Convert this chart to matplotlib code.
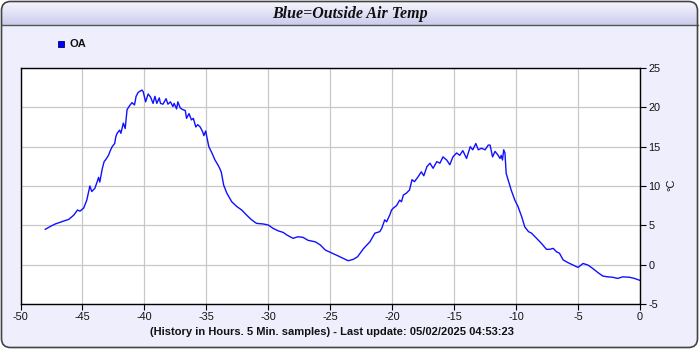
import matplotlib
matplotlib.use("Agg")
import matplotlib.pyplot as plt
import numpy as np
from matplotlib.patches import FancyBboxPatch, Rectangle

# ---- data ----
hours = [-48.0, -47.6, -47.2, -46.6, -46.1, -45.7, -45.4, -45.2, -44.9, -44.65,
         -44.4, -44.25, -44.0, -43.8, -43.7, -43.6, -43.4, -43.25, -43.1, -42.9,
         -42.75, -42.6, -42.4, -42.3, -42.2, -42.0, -41.9, -41.7, -41.55, -41.4,
         -41.2, -41.0, -40.8, -40.67, -40.5, -40.2, -40.1, -39.9, -39.7, -39.5,
         -39.3, -39.15, -39.0, -38.8, -38.7, -38.5, -38.25, -38.1, -37.9, -37.7,
         -37.6, -37.4, -37.3, -37.1, -36.9, -36.7, -36.6, -36.4, -36.2, -36.05,
         -35.85, -35.7, -35.5, -35.3, -35.2, -35.05, -34.97, -34.8, -34.55, -34.3,
         -34.0, -33.8, -33.6, -33.35, -32.95, -32.55, -32.15, -31.75, -31.35, -30.95,
         -30.4, -30.0, -29.6, -29.2, -28.8, -28.5, -28.0, -27.6, -27.2, -26.8,
         -26.2, -25.8, -25.4, -24.9, -24.35, -23.95, -23.55, -23.15, -22.8, -22.3,
         -21.8, -21.4, -21.0, -20.85, -20.7, -20.6, -20.45, -20.2, -20.05, -19.9,
         -19.65, -19.4, -19.25, -19.1, -18.85, -18.6, -18.4, -18.2, -17.9, -17.65,
         -17.45, -17.2, -16.95, -16.7, -16.4, -16.15, -15.9, -15.6, -15.35, -15.1,
         -14.8, -14.55, -14.3, -14.0, -13.7, -13.5, -13.25, -13.05, -12.8, -12.5,
         -12.25, -12.1, -11.9, -11.7, -11.45, -11.3, -11.2, -11.1, -11.0, -10.9,
         -10.8, -10.65, -10.4, -10.1, -9.85, -9.55, -9.3, -9.0, -8.75, -8.35,
         -7.95, -7.55, -7.3, -7.0, -6.75, -6.5, -6.2, -5.8, -5.4, -5.0,
         -4.6, -4.2, -3.8, -3.4, -3.0, -2.6, -2.2, -1.8, -1.4, -0.85,
         -0.45, -0.1, 0.0]
oa_temp = [4.5, 4.85, 5.17, 5.5, 5.76, 6.3, 6.95, 6.8, 7.2, 8.2,
           10.0, 9.3, 9.7, 10.6, 11.1, 10.5, 12.2, 13.1, 13.4, 13.9,
           14.5, 15.0, 15.4, 16.3, 16.7, 17.1, 16.7, 18.0, 17.3, 19.7,
           20.2, 20.6, 20.3, 21.4, 21.9, 22.2, 22.0, 20.7, 21.7, 21.3,
           20.5, 21.4, 20.5, 21.2, 20.5, 20.4, 21.1, 20.4, 20.7, 20.1,
           20.5, 19.8, 20.7, 19.9, 19.7, 19.6, 18.6, 19.2, 18.4, 18.6,
           17.5, 17.8, 17.5, 16.9, 16.4, 17.0, 16.3, 15.0, 14.2, 13.3,
           12.5, 11.8, 10.1, 9.1, 8.0, 7.4, 6.95, 6.3, 5.7, 5.25,
           5.17, 5.04, 4.6, 4.3, 4.1, 3.77, 3.35, 3.55, 3.47, 3.1,
           2.9, 2.5, 1.86, 1.5, 1.1, 0.8, 0.5, 0.67, 1.0, 2.07,
           2.9, 4.0, 4.2, 4.6, 5.25, 5.7, 5.45, 6.3, 6.95, 7.2,
           7.5, 8.2, 8.0, 8.85, 9.1, 9.5, 10.8, 10.55, 11.2, 11.8,
           11.3, 12.45, 12.9, 12.25, 13.1, 12.9, 13.7, 13.3, 12.7, 13.7,
           14.2, 13.9, 14.5, 13.5, 15.0, 14.6, 15.4, 14.6, 14.8, 14.6,
           15.2, 15.2, 13.7, 14.4, 13.9, 13.5, 13.9, 13.3, 14.6, 14.2,
           11.6, 10.8, 9.5, 8.2, 7.4, 6.1, 4.8, 4.2, 4.0, 3.35,
           2.7, 1.95, 1.95, 2.07, 1.65, 1.45, 0.6, 0.25, -0.05, -0.35,
           0.15, -0.05, -0.5, -1.0, -1.45, -1.55, -1.6, -1.75, -1.55, -1.6,
           -1.75, -1.95, -2.0]
x_ticks = [-50, -45, -40, -35, -30, -25, -20, -15, -10, -5, 0]
y_ticks = [-5, 0, 5, 10, 15, 20, 25]
series_name = "OA"
title_text = "Blue=Outside Air Temp"
xlabel_text = "(History in Hours. 5 Min. samples) - Last update: 05/02/2025 04:53:23"
ylabel_text = "°C"

W, H = 700, 350
fig = plt.figure(figsize=(W / 100, H / 100), dpi=100, facecolor="white")

# background / frame axes in pixel coordinates
bg = fig.add_axes([0, 0, 1, 1], zorder=-5)
bg.set_xlim(0, W)
bg.set_ylim(H, 0)
bg.axis("off")

frame = FancyBboxPatch((1.5, 1.5), W - 4, H - 4,
                       boxstyle="round,pad=0,rounding_size=9",
                       facecolor="#eeeefc", edgecolor="none", zorder=0)
bg.add_patch(frame)

# gradient title bar
grad = np.linspace(0, 1, 64).reshape(-1, 1)
top_c = np.array([0.97, 0.97, 1.0])
bot_c = np.array([0.80, 0.80, 0.93])
img = top_c + (bot_c - top_c) * grad
img = np.repeat(img[:, None, :], 2, axis=1)
im = bg.imshow(img, extent=(1.5, W - 2.5, 25, 1.5), aspect="auto", zorder=1,
               interpolation="bilinear")
im.set_clip_path(frame)
bg.plot([1.5, W - 2.5], [25, 25], color="#555555", lw=1.0, zorder=2)

border = FancyBboxPatch((1.5, 1.5), W - 4, H - 4,
                        boxstyle="round,pad=0,rounding_size=9",
                        facecolor="none", edgecolor="#444444", lw=1.2, zorder=3)
bg.add_patch(border)

bg.text(350, 14, title_text, ha="center", va="center", fontsize=11.5,
        fontfamily="Liberation Serif", fontweight="bold", fontstyle="italic",
        color="#111111", zorder=4)

# legend
bg.add_patch(Rectangle((58, 40.5), 6, 6, facecolor="#0000ff",
                       edgecolor="#000066", lw=0.6, zorder=4))
bg.text(69.5, 44, series_name, ha="left", va="center", fontsize=8,
        fontfamily="Liberation Sans", fontweight="bold", color="#111111", zorder=4)

# main plot
ax = fig.add_axes([20.5 / W, 1 - 304 / H, 619.5 / W, 236 / H])
ax.set_facecolor("white")
ax.plot(hours, oa_temp, color="#1010ff", lw=1.0)
ax.set_xlim(-50, 0)
ax.set_ylim(-5, 25)
ax.set_xticks(x_ticks)
ax.set_xticklabels([str(v) for v in x_ticks])
ax.set_yticks(y_ticks)
ax.set_yticklabels([str(v) for v in y_ticks])
ax.yaxis.tick_right()
ax.grid(True, color="#c8c8c8", lw=0.9)
ax.set_axisbelow(True)
for s in ax.spines.values():
    s.set_color("black")
    s.set_linewidth(1.0)
ax.tick_params(axis="both", direction="out", length=4, width=0.8, color="black",
               labelsize=7.8, labelcolor="#111111", pad=2)
for lab in ax.get_xticklabels() + ax.get_yticklabels():
    lab.set_fontfamily("Liberation Sans")

bg.text(332, 332, xlabel_text, ha="center", va="center", fontsize=8,
        fontfamily="Liberation Sans", fontweight="bold", color="#111111", zorder=4)
bg.text(671, 185, ylabel_text, ha="center", va="center", fontsize=8,
        fontfamily="Liberation Sans", rotation=90, color="#111111", zorder=4)

fig.savefig("out.png", dpi=100, facecolor="white")
